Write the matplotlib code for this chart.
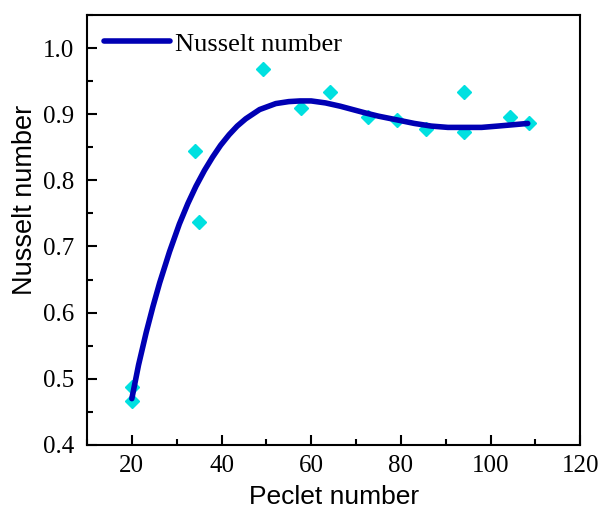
import matplotlib
matplotlib.use('Agg')
import matplotlib.pyplot as plt
from matplotlib.ticker import MultipleLocator

# measured points
pe = [20, 20, 34.1, 35.0, 49.2, 57.7, 64.3, 72.7, 79.2, 85.6, 94.1, 94.1, 104.3, 108.5]
nu = [0.488, 0.467, 0.845, 0.737, 0.969, 0.910, 0.933, 0.896, 0.891, 0.878, 0.873, 0.933, 0.896, 0.887]

# fitted curve
fit_x = [20.0, 21.5, 23.2, 24.7, 26.2, 28.4, 30.6, 32.5, 34.3, 36.2, 38.0, 39.8, 41.7, 43.5,
         45.4, 48.5, 52.1, 55.0, 57.5, 60.0, 63.2, 66.5, 69.8, 72.0, 75.0, 79.4, 83.0, 86.8,
         90.5, 94.2, 98.0, 101.6, 105.0, 108.3]
fit_y = [0.470, 0.521, 0.570, 0.609, 0.645, 0.692, 0.734, 0.765, 0.791, 0.815, 0.835, 0.853,
         0.869, 0.882, 0.893, 0.907, 0.916, 0.919, 0.920, 0.920, 0.917, 0.912, 0.906, 0.902,
         0.897, 0.891, 0.886, 0.882, 0.880, 0.880, 0.880, 0.882, 0.884, 0.886]

fig = plt.figure(figsize=(6, 5.15), dpi=100)
ax = fig.add_axes([0.145, 0.136, 0.822, 0.835])

ax.plot(pe, nu, linestyle=' ', marker='D', color='#00e0e0', markersize=7.5, zorder=2)
ax.plot(fit_x, fit_y, color='#0000b4', linewidth=4, solid_capstyle='round',
        label='Nusselt number', zorder=3)

ax.set_xlim(10, 120)
ax.set_ylim(0.4, 1.05)
ax.xaxis.set_major_locator(MultipleLocator(20))
ax.xaxis.set_minor_locator(MultipleLocator(10))
ax.yaxis.set_major_locator(MultipleLocator(0.1))
ax.yaxis.set_minor_locator(MultipleLocator(0.05))
ax.tick_params(which='both', direction='in', width=1.5)
ax.tick_params(which='major', length=7)
ax.tick_params(which='minor', length=4)
ax.tick_params(axis='x', which='major', pad=7)
ax.tick_params(axis='y', which='major', pad=9)
for lab in ax.get_xticklabels() + ax.get_yticklabels():
    lab.set_fontfamily('Liberation Serif')
    lab.set_fontsize(18)
for s in ax.spines.values():
    s.set_linewidth(1.5)

ax.set_xlabel('Peclet number', fontfamily='Liberation Sans', fontsize=19, labelpad=6)
ax.set_ylabel('Nusselt number', fontfamily='Liberation Sans', fontsize=19.5)
ax.yaxis.set_label_coords(-0.1, 0.57)

ax.legend(loc='upper left', frameon=False, handlelength=2.5, handletextpad=0.2,
          borderaxespad=0.25, prop={'family': 'Liberation Serif', 'size': 19})

fig.savefig('out.png')
